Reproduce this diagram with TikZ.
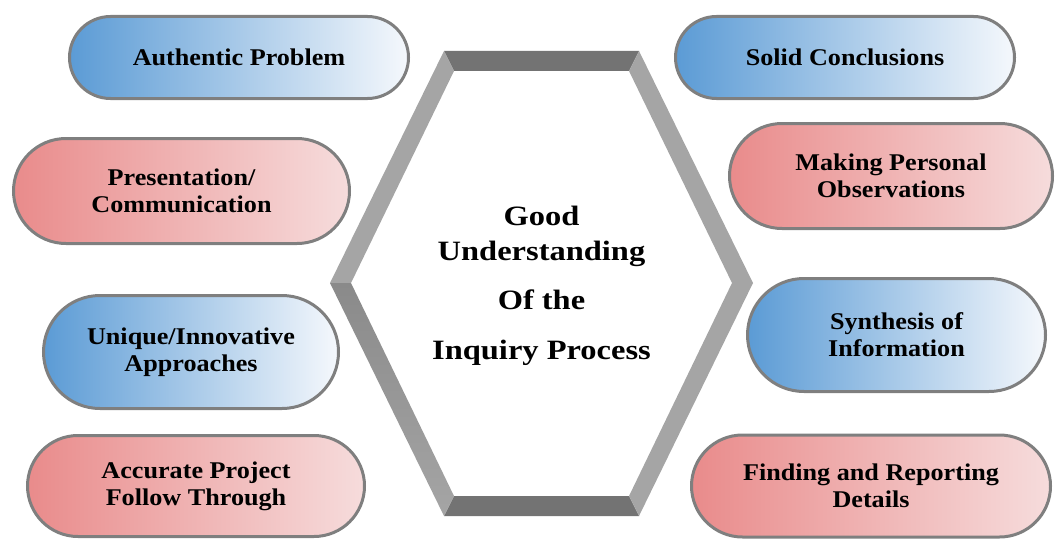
\documentclass[tikz,border=0pt]{standalone}
\usepackage{fontspec}
\usepackage{tikz}
\usetikzlibrary{shapes.misc}

\newfontfamily\pillfont{Liberation Serif}[FakeStretch=1.09]
\newfontfamily\hexfont{Liberation Serif}[FakeStretch=1.16]

\definecolor{pillblue}{HTML}{5B9BD5}
\definecolor{pillbluepale}{HTML}{F5F8FC}
\definecolor{pillred}{HTML}{E98B8B}
\definecolor{pillredpale}{HTML}{F6DCDC}
\definecolor{pillrim}{HTML}{7F7F7F}
\definecolor{frameside}{HTML}{A5A5A5}
\definecolor{framedark}{HTML}{737373}
\definecolor{framemid}{HTML}{8A8A8A}

\tikzset{
    pill/.style={rounded rectangle, draw=pillrim, line width=3pt, align=center,
        font=\pillfont\bfseries\fontsize{24}{27}\selectfont, inner sep=0pt},
    bluepill/.style={pill, left color=pillblue, right color=pillbluepale},
    redpill/.style={pill, left color=pillred, right color=pillredpale}
}

\begin{document}
\begin{tikzpicture}[x=1pt,y=-1pt]
    \useasboundingbox (0,0) rectangle (1057,543);

    % Hexagon frame, outer and inner corners
    \coordinate (otl) at (444,51);
    \coordinate (otr) at (639,51);
    \coordinate (or) at (753,283);
    \coordinate (obr) at (639,516);
    \coordinate (obl) at (444,516);
    \coordinate (ol) at (330,283);
    \coordinate (itl) at (454,71);
    \coordinate (itr) at (629,71);
    \coordinate (ir) at (732,283);
    \coordinate (ibr) at (629,496);
    \coordinate (ibl) at (454,496);
    \coordinate (il) at (351,283);

    \fill[framedark] (otl) -- (otr) -- (itr) -- (itl) -- cycle;
    \fill[framedark] (obl) -- (obr) -- (ibr) -- (ibl) -- cycle;
    \fill[frameside] (otr) -- (or) -- (ir) -- (itr) -- cycle;
    \fill[frameside] (or) -- (obr) -- (ibr) -- (ir) -- cycle;
    \fill[frameside] (otl) -- (ol) -- (il) -- (itl) -- cycle;
    \shade[top color=framemid, bottom color=frameside] (ol) -- (obl) -- (ibl) -- (il) -- cycle;

    % Centre text
    \node[align=center, font=\hexfont\bfseries\fontsize{28}{35}\selectfont] (core) at (541.5,286)
        {Good\\Understanding\\[14pt]Of the\\[15pt]Inquiry Process};

    % Left column
    \node[bluepill, minimum width=339pt, minimum height=82pt] (authentic) at (239,57.5) {Authentic Problem};
    \node[redpill, minimum width=336pt, minimum height=105pt] (presentation) at (181.5,191) {Presentation/\\Communication};
    \node[bluepill, minimum width=295pt, minimum height=113pt] (unique) at (191,352) {Unique/Innovative\\Approaches};
    \node[redpill, minimum width=337pt, minimum height=101pt] (accurate) at (196,486) {Accurate Project\\Follow Through};

    % Right column
    \node[bluepill, minimum width=339pt, minimum height=82pt] (solid) at (845,57.5) {Solid Conclusions};
    \node[redpill, minimum width=323pt, minimum height=105pt] (personal) at (891,176) {Making Personal\\Observations};
    \node[bluepill, minimum width=298pt, minimum height=113pt] (synthesis) at (896.5,335) {Synthesis of\\Information};
    \node[redpill, minimum width=359pt, minimum height=102pt] (finding) at (871,486) {Finding and Reporting\\Details};
\end{tikzpicture}
\end{document}
